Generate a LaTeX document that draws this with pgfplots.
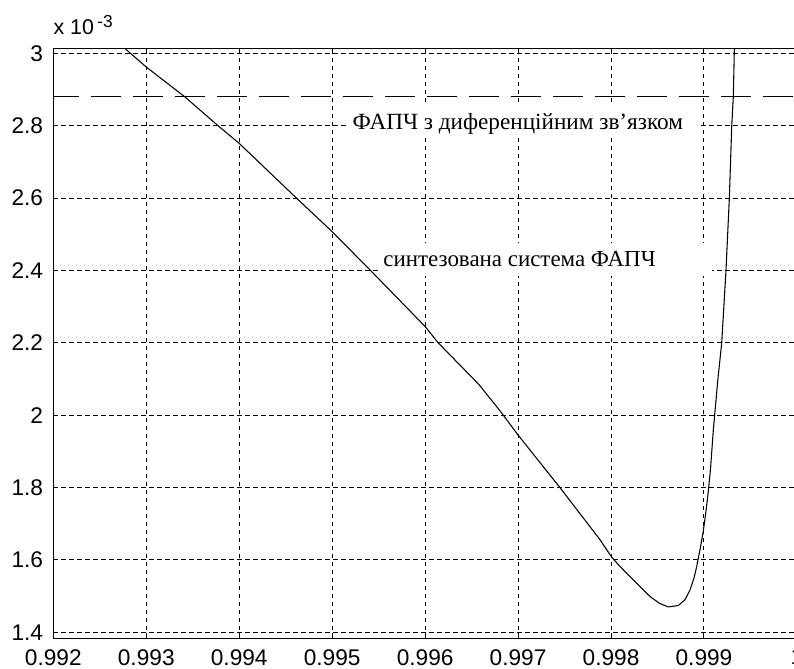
\documentclass[border=0pt]{standalone}
\usepackage{fontspec}
\setmainfont{Liberation Serif}
\setsansfont{Liberation Sans}
\usepackage{pgfplots}
\pgfplotsset{compat=1.18}

\begin{document}
\begin{tikzpicture}
\begin{axis}[
  name=ax,
  scale only axis,
  width=557.7pt, height=442.5pt,
  xmin=0.992, xmax=1.0,
  ymin=1.3834, ymax=3.0138,
  xtick={0.992,0.993,0.994,0.995,0.996,0.997,0.998,0.999,1.0},
  xticklabels={0.992,0.993,0.994,0.995,0.996,0.997,0.998,0.999,1},
  ytick={1.4,1.6,1.8,2.0,2.2,2.4,2.6,2.8,3.0},
  yticklabels={1.4,1.6,1.8,2,2.2,2.4,2.6,2.8,3},
  scaled ticks=false,
  tick align=inside,
  major tick length=3.75pt,
  grid=major,
  major grid style={black, line width=0.75pt, dash pattern=on 3.4pt off 2.6pt},
  axis line style={black, line width=1pt},
  tick style={black, line width=0.75pt},
  tick label style={font=\sffamily\fontsize{17}{17}\selectfont, inner sep=0pt},
  /pgf/number format/assume math mode=true,
  xticklabel style={yshift=-8pt},
  yticklabel style={xshift=-7.5pt},
]

% ФАПЧ з диференційним зв'язком (рівень)
\addplot[black, line width=0.75pt, dash pattern=on 22.5pt off 9pt, dash phase=3pt]
  coordinates {(0.992,2.88) (1.0,2.88)};

% синтезована система ФАПЧ
\addplot[black, line width=0.8pt] coordinates {
(0.992700,3.030) (0.992767,3.014) (0.993000,2.962) (0.993413,2.880)
(0.993771,2.800) (0.994000,2.751) (0.994615,2.600) (0.995000,2.507)
(0.995412,2.400) (0.996000,2.245) (0.996140,2.200) (0.996578,2.085)
(0.996812,2.010) (0.997000,1.945) (0.997450,1.800) (0.997881,1.656)
(0.998006,1.608) (0.998096,1.582) (0.998239,1.545) (0.998419,1.499)
(0.998521,1.480) (0.998616,1.470) (0.998724,1.474) (0.998796,1.490)
(0.998850,1.517) (0.998893,1.550) (0.998922,1.582) (0.998957,1.628)
(0.998993,1.680) (0.999022,1.735) (0.999047,1.790) (0.999070,1.850)
(0.999101,1.960) (0.999150,2.100) (0.999191,2.200) (0.999237,2.400)
(0.999273,2.600) (0.999299,2.800) (0.999316,2.880) (0.999327,3.014)
(0.999335,3.040)
};

\fill[white] (axis cs:0.995157,2.774) rectangle (axis cs:0.998957,2.857);
\node[anchor=base west, inner sep=0pt, font=\fontsize{17.4}{17.4}\selectfont]
  at (axis cs:0.995218,2.790) {ФАПЧ з диференційним зв’язком};

\fill[white] (axis cs:0.995525,2.385) rectangle (axis cs:0.999087,2.476);
\node[anchor=base west, inner sep=0pt, font=\fontsize{17.2}{17.2}\selectfont]
  at (axis cs:0.995548,2.4105) {синтезована система ФАПЧ};
\end{axis}

\node[anchor=base west, inner sep=0pt, font=\sffamily\fontsize{16}{16}\selectfont]
  at ([yshift=10pt]ax.north west) {x 10\,\raisebox{5.5pt}{\fontsize{13}{13}\selectfont -3}};

\pgfresetboundingbox
\path[use as bounding box] ([shift={(-39.98pt,-22.3pt)}]ax.south west)
  rectangle ([shift={(555.5pt,478.7pt)}]ax.south west);
\end{tikzpicture}
\end{document}
